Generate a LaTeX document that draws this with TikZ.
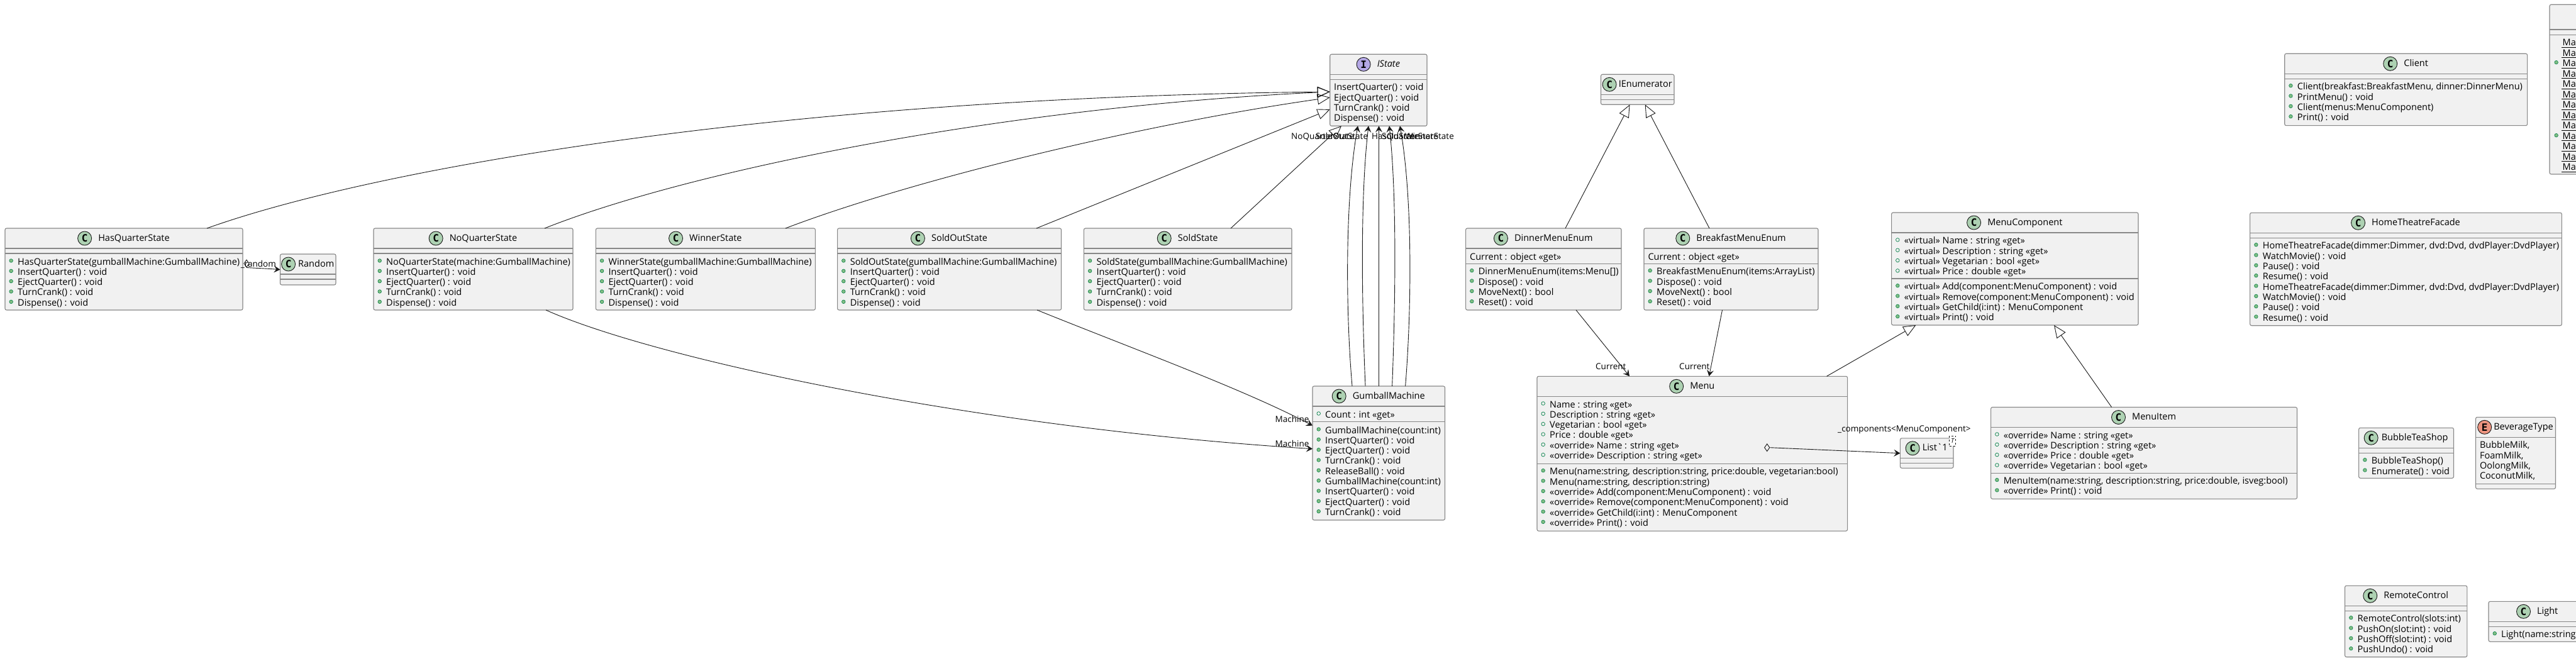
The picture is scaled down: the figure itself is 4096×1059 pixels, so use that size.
\documentclass[tikz,border=0pt]{standalone}
\usepackage{fontspec}
\setmainfont{Open Sans}
\newfontfamily\iconfont{DejaVu Sans Mono}
\usetikzlibrary{arrows.meta,positioning,shapes.geometric}

\definecolor{boxfill}{HTML}{F1F1F1}
\definecolor{boxline}{HTML}{888888}
\definecolor{linkline}{HTML}{181818}
\definecolor{iconclass}{HTML}{ADD1B2}
\definecolor{iconiface}{HTML}{B4A7E5}
\definecolor{iconenum}{HTML}{EB937F}
\definecolor{dotfill}{HTML}{84BE84}
\definecolor{dotline}{HTML}{038048}

\tikzset{
classbody/.style={draw=boxline,fill=boxfill,line width=1.1pt,rounded corners=2.5pt,anchor=north west,inner sep=0pt,outer sep=0pt},
sepline/.style={draw=boxline,line width=1.1pt},
titletext/.style={inner sep=0pt,font=\fontsize{14.5}{16}\selectfont,text height=11pt,text depth=3pt},
classicon/.style={circle,draw=linkline,line width=0.9pt,fill=iconclass,minimum size=22pt,inner sep=0pt,font=\iconfont\bfseries\fontsize{16}{16}\selectfont},
ifaceicon/.style={classicon,fill=iconiface},
enumicon/.style={classicon,fill=iconenum},
membtext/.style={anchor=base west,inner sep=0pt,font=\fontsize{14.5}{16}\selectfont},
rolelabel/.style={anchor=base west,inner sep=0pt,font=\fontsize{13.5}{15}\selectfont},
pubmeth/.style={circle,draw=dotline,line width=0.6pt,fill=dotfill,minimum size=5.6pt,inner sep=0pt},
pubfield/.style={circle,draw=dotline,line width=0.7pt,fill=none,minimum size=5.6pt,inner sep=0pt},
extendsline/.style={draw=linkline,line width=0.9pt,-{Triangle[open,length=20pt,width=17pt]}},
usesline/.style={draw=linkline,line width=0.9pt,-{Stealth[length=10pt,width=11pt,inset=4pt]}},
aggport/.style={diamond,draw=linkline,line width=0.9pt,aspect=0.7,minimum width=8.5pt,minimum height=12pt,inner sep=0pt}
}

\def\tgap{10}
% name, x0, y0, x1, y1, second rule, title, icon style, icon letter
\newcommand{\classbox}[9]{%
\node[classbody,minimum width={(#4-#2)*1pt},minimum height={(#5-#3)*1pt}] (#1) at (#2,#3) {};
\draw[sepline] (#1.west |- 0,#3+32) -- (#1.east |- 0,#3+32);
\draw[sepline] (#1.west |- 0,#6) -- (#1.east |- 0,#6);
\node[titletext] (#1-title) at ({(#2+#4)/2+(22+\tgap)/2},#3+16) {#7};
\node[#8,left=\tgap pt of #1-title.west,anchor=east] (#1-icon) at (#1-title.west) {#9};
}
\newcommand{\methods}[3]{%
\foreach \mrow [count=\n] in {#3} {
\pgfmathsetmacro\rowy{#2+(\n-1)*16.33}
\node[pubmeth,xshift=9.7pt] (#1-d\n) at (#1.west |- 0,\rowy-1.5) {};
\node[membtext,xshift=20pt] (#1-m\n) at (#1.west |- 0,\rowy+5) {\mrow};
}}
\newcommand{\fields}[3]{%
\foreach \mrow [count=\n] in {#3} {
\pgfmathsetmacro\rowy{#2+(\n-1)*16.33}
\node[pubfield,xshift=9.7pt] (#1-e\n) at (#1.west |- 0,\rowy-1.5) {};
\node[membtext,xshift=20pt] (#1-f\n) at (#1.west |- 0,\rowy+5) {\mrow};
}}
\newcommand{\plains}[3]{%
\foreach \mrow [count=\n] in {#3} {
\pgfmathsetmacro\rowy{#2+(\n-1)*16.33}
\node[membtext,xshift=6.3pt] (#1-p\n) at (#1.west |- 0,\rowy+5) {\mrow};
}}

\begin{document}
\begin{tikzpicture}[x=1pt,y=-1pt]
\path[use as bounding box,clip] (0,0) rectangle (4096,1059);

% gumball states
\foreach \nm/\xa/\xb/\ttl/\ctor in {hasquarter/8/386/HasQuarterState/gumballMachine,noquarter/594/911/NoQuarterState/machine,winner/947.4/1296.4/WinnerState/gumballMachine,soldout/1331.6/1687.5/SoldOutState/gumballMachine,sold/1723.4/2054/SoldState/gumballMachine}
{
\classbox{\nm}{\xa}{363}{\xb}{493}{403}{\ttl}{classicon}{C}
\methods{\nm}{416}{\ttl(\ctor:GumballMachine),InsertQuarter() : void,EjectQuarter() : void,TurnCrank() : void,Dispense() : void}
}

\def\tgap{4}
\classbox{random}{445.5}{404}{534}{453}{444}{Random}{classicon}{C}
\def\tgap{10}

\classbox{istate}{2114.7}{86.3}{2269}{200.3}{126.3}{\itshape IState}{ifaceicon}{I}
\plains{istate}{138.7}{InsertQuarter() : void,EjectQuarter() : void,TurnCrank() : void,Dispense() : void}

\classbox{gumball}{2087}{614}{2297.5}{827}{670.3}{GumballMachine}{classicon}{C}
\fields{gumball}{659}{Count : int «get»}
\methods{gumball}{684}{GumballMachine(count:int),InsertQuarter() : void,EjectQuarter() : void,TurnCrank() : void,ReleaseBall() : void,GumballMachine(count:int),InsertQuarter() : void,EjectQuarter() : void,TurnCrank() : void}

% menus
\def\tgap{3}
\classbox{ienum}{2545.5}{118.3}{2662}{166.3}{158.3}{IEnumerator}{classicon}{C}
\def\tgap{10}
\classbox{dinner}{2330.6}{363}{2578}{493}{419.3}{DinnerMenuEnum}{classicon}{C}
\plains{dinner}{408}{Current : object «get»}
\methods{dinner}{431.7}{DinnerMenuEnum(items:Menu[]),Dispose() : void,MoveNext() : bool,Reset() : void}
\classbox{breakfast}{2614}{363}{2891}{493}{419.3}{BreakfastMenuEnum}{classicon}{C}
\plains{breakfast}{408}{Current : object «get»}
\methods{breakfast}{431.7}{BreakfastMenuEnum(items:ArrayList),Dispose() : void,MoveNext() : bool,Reset() : void}

\classbox{menu}{2444}{598.3}{2937.6}{844.3}{737.3}{Menu}{classicon}{C}
\fields{menu}{643}{Name : string «get»,Description : string «get»,Vegetarian : bool «get»,Price : double «get»,«override» Name : string «get»,«override» Description : string «get»}
\methods{menu}{749.7}{{Menu(name:string, description:string, price:double, vegetarian:bool)},{Menu(name:string, description:string)},«override» Add(component:MenuComponent) : void,«override» Remove(component:MenuComponent) : void,«override» GetChild(i:int) : MenuComponent,«override» Print() : void}

\classbox{menucomp}{3007.6}{338}{3400}{517}{443}{MenuComponent}{classicon}{C}
\fields{menucomp}{382.9}{«virtual» Name : string «get»,«virtual» Description : string «get»,«virtual» Vegetarian : bool «get»,«virtual» Price : double «get»}
\methods{menucomp}{455.7}{«virtual» Add(component:MenuComponent) : void,«virtual» Remove(component:MenuComponent) : void,«virtual» GetChild(i:int) : MenuComponent,«virtual» Print() : void}

\classbox{menuitem}{3165.6}{647.5}{3652.5}{793.3}{752.4}{MenuItem}{classicon}{C}
\fields{menuitem}{692}{«override» Name : string «get»,«override» Description : string «get»,«override» Price : double «get»,«override» Vegetarian : bool «get»}
\methods{menuitem}{764.6}{{MenuItem(name:string, description:string, price:double, isveg:bool)},«override» Print() : void}

\def\tgap{4}
\classbox{list}{3021.4}{696.8}{3106}{744.3}{736.4}{List\textasciigrave 1}{classicon}{C}
\def\tgap{10}
\node[draw=linkline,dashed,line width=0.7pt,fill=white,minimum width=10pt,minimum height=16pt,inner sep=0pt,font=\itshape\fontsize{10}{10}\selectfont] (list-t) at (3104.5,701) {T};

% other classes
\classbox{client}{3632.7}{85.3}{4018.6}{199.7}{125.3}{Client}{classicon}{C}
\methods{client}{137.7}{{Client(breakfast:BreakfastMenu, dinner:DinnerMenu)},PrintMenu() : void,Client(menus:MenuComponent),Print() : void}

\classbox{facade}{3577.6}{338.3}{4073.4}{517.7}{378.3}{HomeTheatreFacade}{classicon}{C}
\methods{facade}{390.7}{{HomeTheatreFacade(dimmer:Dimmer, dvd:Dvd, dvdPlayer:DvdPlayer)},WatchMovie() : void,Pause() : void,Resume() : void,{HomeTheatreFacade(dimmer:Dimmer, dvd:Dvd, dvdPlayer:DvdPlayer)},WatchMovie() : void,Pause() : void,Resume() : void}

\def\tgap{5}
\classbox{bubble}{3750.6}{680.3}{3901.5}{760.3}{720.3}{BubbleTeaShop}{classicon}{C}
\methods{bubble}{732.7}{BubbleTeaShop(),Enumerate() : void}
\def\tgap{3}
\classbox{beverage}{3936.5}{663.3}{4063.5}{777.3}{769.3}{BeverageType}{enumicon}{E}
\plains{beverage}{707.7}{{BubbleMilk,},{FoamMilk,},{OolongMilk,},{CoconutMilk,}}
\def\tgap{10}

\classbox{remote}{3728.5}{931.3}{3922.8}{1044.7}{971.3}{RemoteControl}{classicon}{C}
\methods{remote}{983.7}{RemoteControl(slots:int),PushOn(slot:int) : void,PushOff(slot:int) : void,PushUndo() : void}

% cut off by the right edge
\node[classbody,minimum width=200pt,minimum height=64pt] (light) at (3957,956.3) {};
\draw[sepline] (light.west |- 0,988.3) -- (light.east |- 0,988.3);
\draw[sepline] (light.west |- 0,996.7) -- (light.east |- 0,996.7);
\node[classicon] (light-icon) at (4012.5,972.3) {C};
\node[titletext,right=10pt of light-icon] (light-title) {Light};
\methods{light}{1008.7}{Light(name:string}

\node[classbody,minimum width=200pt,minimum height=269.7pt] (mainbox) at (4054,7.3) {};
\draw[sepline] (mainbox.west |- 0,47) -- (mainbox.east |- 0,47);
\draw[sepline] (mainbox.west |- 0,55.3) -- (mainbox.east |- 0,55.3);
\foreach \n in {1,...,13}
{
\pgfmathsetmacro\rowy{68+(\n-1)*16.47}
\node[membtext] (mainrow\n) at (4074.5,\rowy+5) {Mai};
\draw[line width=1pt,black] ([xshift=-1.5pt,yshift=-2.5pt]mainrow\n.base west) -- +(30,0);
}
\foreach \n/\ry in {3/100.7,10/216.7}% the two public rows
\node[pubmeth] (maindot\n) at (4064.6,\ry-1.5) {};

% links
\draw[extendsline] ([xshift=321pt]hasquarter.north west) .. controls (600,266) and (1250,155) .. ([yshift=-59.7pt]istate.north west);
\draw[extendsline] ([xshift=272pt]noquarter.north west) .. controls (1100,270) and (1600,170) .. ([yshift=-59.7pt]istate.north west);
\draw[extendsline] ([xshift=301.6pt]winner.north west) .. controls (1440,290) and (1800,200) .. ([yshift=-68.7pt]istate.north west);
\draw[extendsline] ([xshift=316.4pt]soldout.north west) -- ([yshift=-87.7pt]istate.north west);
\draw[extendsline] ([xshift=233.6pt]sold.north west) -- ([xshift=18.3pt]istate.south west);

\draw[usesline] ([xshift=63pt]gumball.north west) .. controls (2140,500) and (2138,320) .. ([xshift=44.3pt]istate.south west);
\draw[usesline] ([xshift=84pt]gumball.north west) .. controls (2166,500) and (2162,320) .. ([xshift=61.3pt]istate.south west);
\draw[usesline] ([xshift=105.5pt]gumball.north west) -- ([xshift=77.8pt]istate.south west);
\draw[usesline] ([xshift=126.6pt]gumball.north west) .. controls (2218,500) and (2222,320) .. ([xshift=94.3pt]istate.south west);
\draw[usesline] ([xshift=147.6pt]gumball.north west) .. controls (2244,500) and (2247,320) .. ([xshift=111.3pt]istate.south west);

\draw[usesline] ([xshift=274pt]noquarter.south west) .. controls (1040,570) and (1550,680) .. ([yshift=-99.7pt]gumball.north west);
\draw[usesline] ([xshift=317.4pt]soldout.south west) .. controls (1800,554) and (1980,620) .. ([yshift=-62.7pt]gumball.north west);

\node[aggport] (randport) at (392,419) {};
\draw[usesline] (randport.south) .. controls (398,426) and (425,427) .. ([yshift=-24.7pt]random.north west);

\draw[extendsline] ([xshift=158.4pt]dinner.north west) -- ([xshift=46pt]ienum.south west);
\draw[extendsline] ([xshift=104pt]breakfast.north west) -- ([xshift=70.2pt]ienum.south west);
\draw[usesline] ([xshift=175.4pt]dinner.south west) -- ([xshift=147pt]menu.north west);
\draw[usesline] ([xshift=124.5pt]breakfast.south west) -- ([xshift=273.5pt]menu.north west);
\draw[extendsline] ([xshift=460.5pt]menu.north west) -- ([xshift=38.8pt]menucomp.south west);
\draw[extendsline] ([xshift=192pt]menuitem.north west) -- ([xshift=258.4pt]menucomp.south west);

\node[aggport] (menuport) at (2809.7,711.7) {};
\draw[usesline] (menuport.east) -- ([yshift=-23.9pt]list.north west);

% role labels
\foreach \lb/\xl/\ttl in {l1/2053/NoQuarterState,l2/2092/SoldOutState,l3/2181/HasQuarterState,l4/2197/SoldState,l5/2234/WinnerState}
\node[rolelabel] (\lb) at (\xl,221.5) {\ttl};
\node[rolelabel] (m1) at (2027.5,671.5) {Machine};
\node[rolelabel] (m2) at (2027.5,710.5) {Machine};
\node[rolelabel] (c1) at (2537,587.5) {Current};
\node[rolelabel] (c2) at (2670,587.5) {Current};
\node[rolelabel] (r1) at (382.6,424.5) {\_random};
\node[rolelabel] (r2) at (2922,686) {\_components<MenuComponent>};
\end{tikzpicture}
\end{document}
